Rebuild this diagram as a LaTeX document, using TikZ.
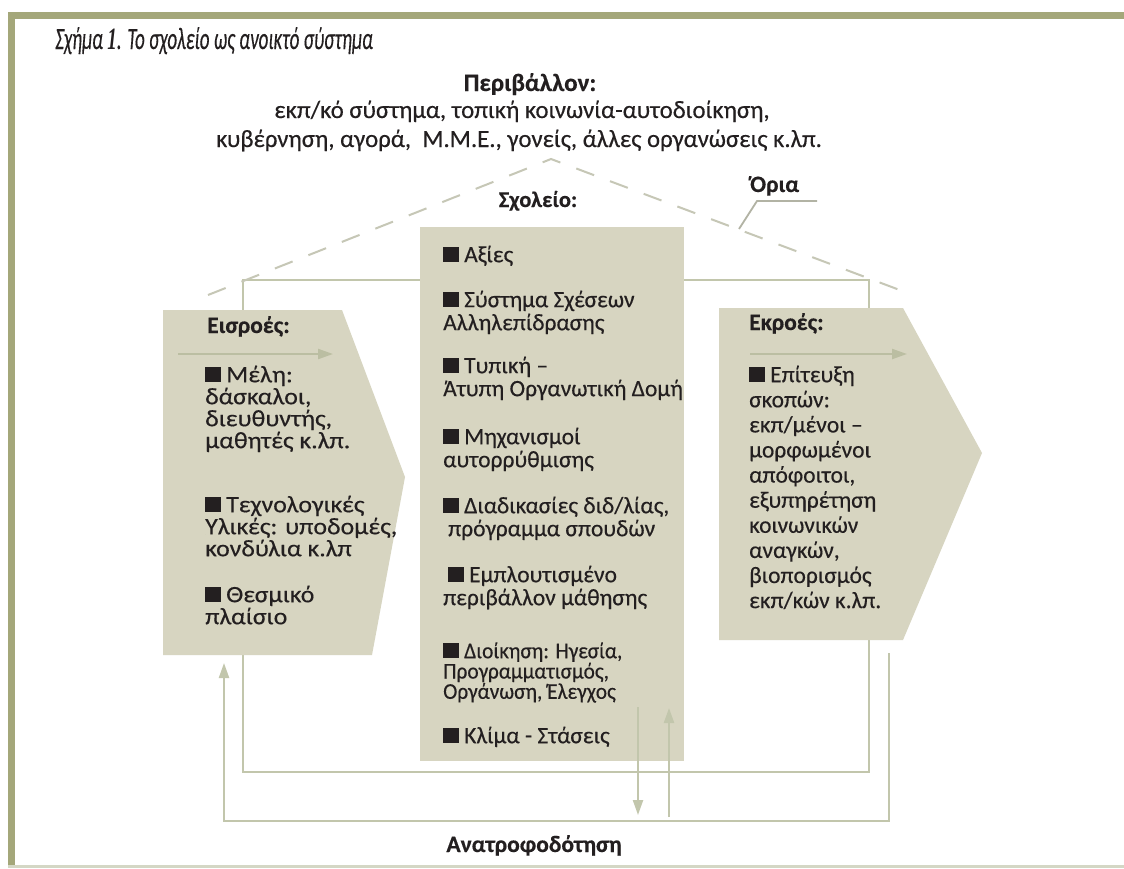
\documentclass[tikz,border=0pt]{standalone}
\usepackage{fontspec}
\usepackage{graphicx}
\setmainfont[FakeBold=0.35]{Carlito}
\newfontfamily\numfont{Liberation Serif}
\newfontfamily\widefont[FakeStretch=1.1,FakeBold=0.35]{Carlito}
\newfontfamily\narrowfont[FakeStretch=0.95,FakeBold=0.35]{Carlito}
\usetikzlibrary{arrows.meta}
\definecolor{boxfill}{HTML}{D7D5C1}
\definecolor{linec}{HTML}{C2C6AC}
\definecolor{arrc}{HTML}{BBBEA2}
\definecolor{borderc}{HTML}{A4A77A}
\definecolor{dashc}{HTML}{C6C7B6}
\definecolor{txt}{HTML}{231F20}
\newcommand\sqb{\rule{16pt}{15pt}\hspace{5pt}}
\newcommand\fl{\rule{0pt}{22pt}}
\newcommand\nolsk{\lineskiplimit=-100pt\relax\lineskip=0pt\relax}
\begin{document}
\begin{tikzpicture}[x=1pt,y=-1pt,
  loopline/.style={draw=linec, line width=2.2pt},
  arr/.style={loopline, -{Triangle[length=15pt,width=10pt]}},
  inarr/.style={draw=arrc, line width=2.2pt, -{Triangle[length=15pt,width=10pt]}},
  body/.style={anchor=north west, inner sep=0pt, align=left, text=txt,
    font=\fontsize{23.5}{23}\selectfont\nolsk},
  tight/.style={body, font=\narrowfont\fontsize{22.5}{20.3}\selectfont\nolsk},
  lbody/.style={body, font=\widefont\fontsize{23.5}{22}\selectfont\nolsk},
  rbody/.style={body, font=\fontsize{23.5}{25.1}\selectfont\nolsk},
  head/.style={anchor=base west, inner sep=0pt, text=txt, font=\fontsize{23.5}{24}\selectfont\bfseries},
  plain/.style={anchor=base, inner sep=0pt, text=txt, font=\fontsize{24.8}{26}\selectfont},
]
\useasboundingbox (0,0) rectangle (1124,868);
\fill[white] (0,0) rectangle (1124,868);
% frame
\fill[borderc] (8,12) rectangle (1124,19);
\fill[borderc] (8,12) rectangle (15,866);
\fill[linec!70] (8,865) rectangle (1124,868);

% inner loop
\coordinate (tl) at (243,280);
\coordinate (tr) at (869,280);
\coordinate (br) at (869,772);
\coordinate (bl) at (243,772);
\draw[loopline] (tl) -- (tr) -- (br) -- (bl) -- cycle;

% boundary (dashed roof)
\coordinate (rl) at (208,295);
\coordinate (apex) at (551,159);
\coordinate (rr) at (905,292);
\draw[dashc, line width=2pt, dash pattern=on 19pt off 17pt] (rl) -- (apex) -- (rr);

% boxes
\fill[boxfill] (163,310) -- (342,310) -- (405,477) -- (372,655) -- (163,655) -- cycle;
\fill[boxfill] (719,308) -- (903,308) -- (982,453) -- (903,640) -- (719,640) -- cycle;
\node[fill=boxfill, inner sep=0pt, minimum width=264pt, minimum height=534pt] (school) at (552,494) {};

% arrows inside boxes
\coordinate (ia1) at (178,354); \coordinate (ia2) at (333,354);
\coordinate (oa1) at (750,354); \coordinate (oa2) at (907,354);
\draw[inarr] (ia1) -- (ia2);
\draw[inarr] (oa1) -- (oa2);

% feedback
\coordinate (f1) at (889,653);
\coordinate (f2) at (889,821);
\coordinate (f3) at (224,821);
\coordinate (f4) at (224,663);
\draw[arr] (f1) -- (f2) -- (f3) -- (f4);
\coordinate (d1) at (638,707); \coordinate (d2) at (638,815);
\coordinate (u1) at (669,817); \coordinate (u2) at (669,708);
\draw[arr] (d1) -- (d2);
\draw[arr] (u1) -- (u2);

% boundary leader
\coordinate (o1) at (739,229); \coordinate (o2) at (757,201); \coordinate (o3) at (817,201);
\draw[draw=dashc!90!black, line width=1.8pt] (o1) -- (o2) -- (o3);

% texts
\node[anchor=base west, inner sep=0pt, text=txt, font=\fontsize{31}{31}\selectfont\itshape] (title) at (55,49)
  {\scalebox{0.615}[1]{Σχήμα {\numfont\bfseries\itshape 1}. Το σχολείο ως ανοικτό σύστημα}};
\node[head, anchor=base, font=\fontsize{25}{26}\selectfont\bfseries] (envh) at (530,91) {Περιβάλλον:};
\node[plain] (env1) at (522,118) {εκπ/κό σύστημα, τοπική κοινωνία-αυτοδιοίκηση,};
\node[plain] (env2) at (519,147) {κυβέρνηση, αγορά,\ \ Μ.Μ.Ε., γονείς, άλλες οργανώσεις κ.λπ.};
\node[head, anchor=base, font=\fontsize{22.5}{24}\selectfont\bfseries] (schh) at (538,207) {Σχολείο:};
\node[head] (oria) at (750,192) {Όρια};
\node[head] (inh) at (207,333) {Εισροές:};
\node[head] (outh) at (749,330) {Εκροές:};
\node[head, anchor=base] (fb) at (534,852) {Ανατροφοδότηση};

% inputs
\node[lbody] (in1) at (205,360) {\fl\sqb Μέλη:\\δάσκαλοι,\\διευθυντής,\\μαθητές κ.λπ.};
\node[lbody] (in2) at (205,490) {\fl\sqb Τεχνολογικές\\Υλικές: υποδομές,\\κονδύλια κ.λπ};
\node[lbody] (in3) at (205,580) {\fl\sqb Θεσμικό\\πλαίσιο};

% school
\node[body] (s1) at (443,240) {\fl\sqb Αξίες};
\node[body] (s2) at (443,285) {\fl\sqb Σύστημα Σχέσεων\\Αλληλεπίδρασης};
\node[body] (s3) at (443,351) {\fl\sqb Τυπική --\\Άτυπη Οργανωτική Δομή};
\node[body] (s4) at (443,422) {\fl\sqb Μηχανισμοί\\αυτορρύθμισης};
\node[body] (s5) at (443,491) {\fl\sqb Διαδικασίες διδ/λίας,\\\hspace{5pt}πρόγραμμα σπουδών};
\node[body] (s6) at (443,560) {\fl\hspace{5pt}\sqb Εμπλουτισμένο\\περιβάλλον μάθησης};
\node[tight] (s7) at (443,636) {\fl\sqb Διοίκηση: Ηγεσία,\\Προγραμματισμός,\\Οργάνωση, Έλεγχος};
\node[body] (s8) at (443,721) {\fl\sqb Κλίμα - Στάσεις};

% outputs
\node[rbody] (out1) at (749,360) {\fl\sqb Επίτευξη\\σκοπών:\\εκπ/μένοι --\\μορφωμένοι\\απόφοιτοι,\\εξυπηρέτηση\\κοινωνικών\\αναγκών,\\βιοπορισμός\\εκπ/κών κ.λπ.};
\end{tikzpicture}
\end{document}
